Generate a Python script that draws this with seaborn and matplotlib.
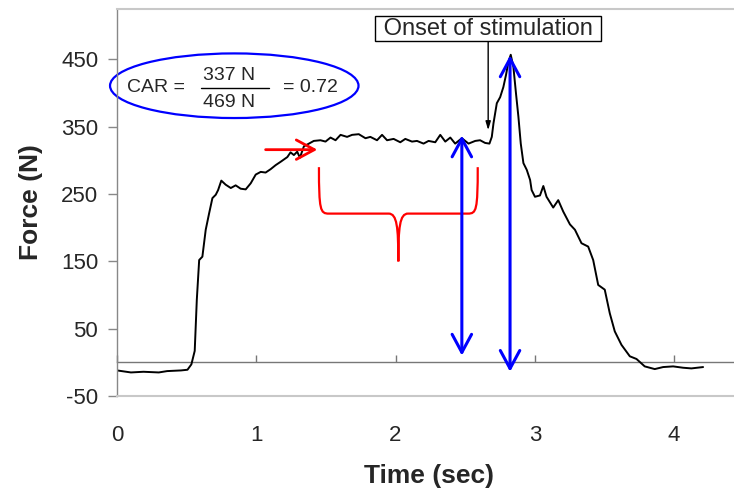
import numpy as np
import pandas as pd
import seaborn as sns
import matplotlib
matplotlib.use("Agg")
from matplotlib import pyplot as plt
from matplotlib.patches import Ellipse, PathPatch
from matplotlib.path import Path

# force trace (time in s, force in N)
time = [0.00, 0.10, 0.19, 0.30, 0.36, 0.46, 0.506, 0.534, 0.558, 0.573,
        0.590, 0.613, 0.637, 0.661, 0.685, 0.709, 0.726, 0.749, 0.780, 0.817,
        0.852, 0.888, 0.924, 0.960, 0.996, 1.032, 1.067, 1.103, 1.139, 1.175,
        1.223, 1.246, 1.270, 1.294, 1.313, 1.342, 1.378, 1.413, 1.461, 1.497,
        1.533, 1.569, 1.605, 1.652, 1.688, 1.736, 1.784, 1.819, 1.867, 1.903,
        1.939, 1.986, 2.034, 2.070, 2.118, 2.154, 2.201, 2.237, 2.285, 2.321,
        2.357, 2.393, 2.428, 2.476, 2.524, 2.572, 2.607, 2.643, 2.674, 2.691,
        2.703, 2.727, 2.751, 2.774, 2.793, 2.810, 2.827, 2.846, 2.865, 2.882,
        2.899, 2.918, 2.942, 2.966, 2.977, 3.001, 3.037, 3.061, 3.084, 3.132,
        3.168, 3.204, 3.252, 3.288, 3.335, 3.383, 3.419, 3.455, 3.502, 3.538,
        3.574, 3.622, 3.682, 3.730, 3.789, 3.861, 3.921, 3.993, 4.064, 4.124,
        4.208]
force = [-12, -15, -14, -15, -13, -12, -11, -3, 17, 93,
         152, 157, 197, 221, 244, 249, 256, 270, 264, 259,
         263, 258, 257, 266, 279, 283, 282, 287, 293, 298,
         305, 312, 308, 313, 304, 321, 325, 329, 330, 328,
         334, 330, 338, 335, 338, 339, 333, 335, 330, 338,
         330, 332, 327, 332, 328, 329, 325, 329, 327, 338,
         328, 334, 325, 333, 325, 329, 330, 326, 325, 335,
         355, 385, 394, 409, 427, 446, 457, 439, 399, 365,
         325, 296, 286, 271, 256, 246, 248, 262, 246, 230,
         241, 224, 205, 197, 177, 172, 152, 115, 108, 73,
         46, 26, 9, 5, -6, -10, -7, -6, -8, -9,
         -7]

y_ticks = [-50, 50, 150, 250, 350, 450]
x_ticks = [0, 1, 2, 3, 4]

# annotation values
plateau_time, plateau_force = 2.476, 337
peak_time, peak_force = 2.822, 456
onset_time = 2.665

df = pd.DataFrame({"Time (sec)": time, "Force (N)": force})

sns.set_theme(style="white")
plt.rcParams["font.family"] = ["Liberation Sans", "DejaVu Sans"]
plt.rcParams["axes.unicode_minus"] = False

fig, ax = plt.subplots(figsize=(7.34, 4.9), dpi=100)
fig.subplots_adjust(left=117 / 734, right=1.0, bottom=1 - 396 / 490, top=1 - 9 / 490)

sns.lineplot(data=df, x="Time (sec)", y="Force (N)", color="black",
             lw=1.4, estimator=None, ax=ax)

ax.set_xlim(0, 4.43)
ax.set_ylim(-50, 525)
ax.set_yticks(y_ticks)
ax.set_xticks(x_ticks)
ax.tick_params(axis="y", labelsize=16, length=6.5, width=1, color="#888888",
               left=True, direction="out", pad=7)
ax.tick_params(axis="x", labelsize=16, length=0, pad=21)

for side in ["top", "bottom"]:
    ax.spines[side].set_color("#c8c8c8")
    ax.spines[side].set_linewidth(1.5)
ax.spines["left"].set_color("#888888")
ax.spines["left"].set_linewidth(1.0)
ax.spines["right"].set_visible(False)

# zero line with the x ticks sitting on it
ylo, yhi = ax.get_ylim()
zero_ax = ax.secondary_xaxis((0 - ylo) / (yhi - ylo))
zero_ax.set_xticks(x_ticks)
zero_ax.tick_params(direction="in", length=5, width=1, color="#777777",
                    labelbottom=False, labeltop=False)
zero_ax.spines["bottom"].set_color("#777777")
zero_ax.spines["bottom"].set_linewidth(1.0)

ax.set_xlabel("Time (sec)", fontsize=19, fontweight="bold")
ax.set_ylabel("Force (N)", fontsize=19, fontweight="bold")
ax.xaxis.set_label_coords(0.506, -0.175)
ax.yaxis.set_label_coords(-0.12, 0.5)

# onset of stimulation
ax.annotate(" Onset of stimulation ", xy=(onset_time, 345), xytext=(onset_time, 496),
            ha="center", va="center", fontsize=17,
            bbox=dict(boxstyle="square,pad=0.08", fc="white", ec="black", lw=1),
            arrowprops=dict(arrowstyle="-|>,head_length=0.5,head_width=0.15",
                            color="black", lw=1, shrinkA=0, shrinkB=0,
                            mutation_scale=10))

# CAR ellipse and fraction
ax.add_patch(Ellipse((0.842, 411), 1.784, 96, fill=False, ec="#0000ff",
                     lw=1.6, clip_on=False))
ax.text(0.283, 409, "CAR =", ha="center", va="center", fontsize=14)
ax.text(0.804, 426, f"{plateau_force} N", ha="center", va="center", fontsize=14)
ax.text(0.804, 386, "469 N", ha="center", va="center", fontsize=14)
ax.plot([0.60, 1.09], [407, 407], color="black", lw=1)
ax.text(1.39, 409, f"= {plateau_force / 469:.2f}", ha="center", va="center", fontsize=14)

# red arrow pointing at plateau start
ax.annotate("", xy=(1.438, 316), xytext=(1.067, 316),
            arrowprops=dict(arrowstyle="->,head_length=1.3,head_width=0.7",
                            color="#ff0000", lw=2, shrinkA=0, shrinkB=0,
                            mutation_scale=10))

# red curly brace under plateau
bx0, bx1, bmid = 1.45, 2.59, 2.02
btop, bline, btip = 290, 221, 150
verts = [(bx0, btop), (bx0, bline + 5), (bx0 + 0.01, bline), (bx0 + 0.07, bline),
         (bmid - 0.07, bline),
         (bmid - 0.01, bline), (bmid, bline - 20), (bmid, btip),
         (bmid, bline - 20), (bmid + 0.01, bline), (bmid + 0.07, bline),
         (bx1 - 0.07, bline),
         (bx1 - 0.01, bline), (bx1, bline + 5), (bx1, btop)]
codes = [Path.MOVETO, Path.CURVE4, Path.CURVE4, Path.CURVE4,
         Path.LINETO,
         Path.CURVE4, Path.CURVE4, Path.CURVE4,
         Path.CURVE4, Path.CURVE4, Path.CURVE4,
         Path.LINETO,
         Path.CURVE4, Path.CURVE4, Path.CURVE4]
ax.add_patch(PathPatch(Path(verts, codes), fill=False, ec="#ff0000", lw=1.6))

# blue double arrows: plateau force and peak force
blue_style = "<->,head_length=1.3,head_width=0.7"
ax.annotate("", xy=(plateau_time, plateau_force), xytext=(plateau_time, 10),
            arrowprops=dict(arrowstyle=blue_style, color="#0000ff", lw=2.2,
                            shrinkA=0, shrinkB=0, mutation_scale=10))
ax.annotate("", xy=(peak_time, peak_force), xytext=(peak_time, -14),
            arrowprops=dict(arrowstyle=blue_style, color="#0000ff", lw=2.2,
                            shrinkA=0, shrinkB=0, mutation_scale=10))

plt.savefig("out.png", dpi=100)
